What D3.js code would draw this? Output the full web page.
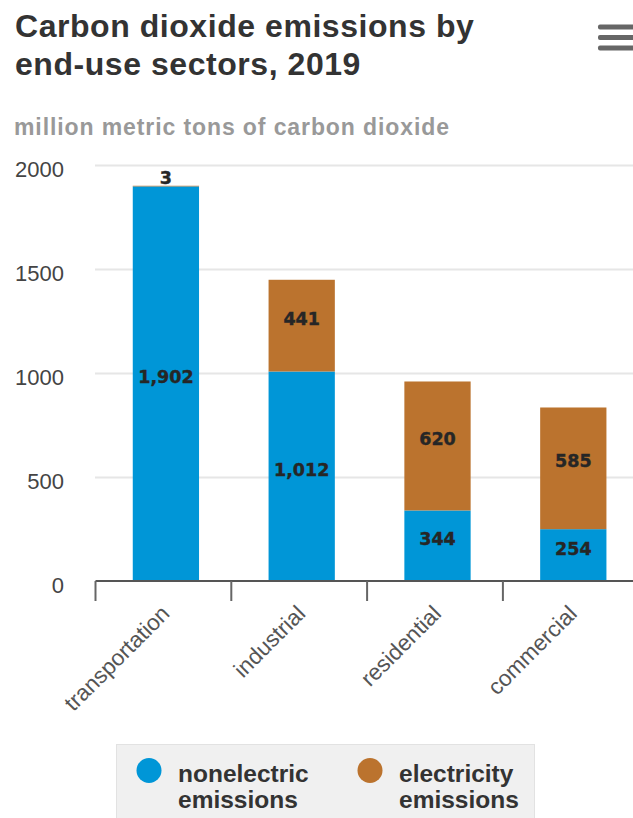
<!DOCTYPE html>
<html>
<head>
<meta charset="utf-8">
<script src="https://cdn.jsdelivr.net/npm/d3@7"></script>
<style>
  html, body { margin: 0; padding: 0; background: #fff; overflow: hidden; }
  svg { display: block; }
</style>
</head>
<body>
<svg id="chart" width="633" height="818"></svg>
<script>
const categories = ["transportation", "industrial", "residential", "commercial"];
const nonelectric = [1902, 1012, 344, 254];
const electricity = [3, 441, 620, 585];
const seriesNames = ["nonelectric\nemissions", "electricity\nemissions"];
const yTicks = [0, 500, 1000, 1500, 2000];
const titleLines = ["Carbon dioxide emissions by", "end-use sectors, 2019"];
const subtitle = "million metric tons of carbon dioxide";

const colors = ["#0096d7", "#bb732e"];

const svg = d3.select("#chart");

// Title
svg.append("g").selectAll("text").data(titleLines).join("text")
  .attr("x", 15).attr("y", (d, i) => 36.5 + i * 38.7)
  .attr("font-family", "'Liberation Sans', Arial, sans-serif")
  .attr("font-weight", "bold").attr("font-size", 32)
  .attr("letter-spacing", 0.55)
  .attr("fill", "#333").text(d => d);

svg.append("text").attr("x", 14).attr("y", 135)
  .attr("font-family", "'Liberation Sans', Arial, sans-serif")
  .attr("font-weight", "bold").attr("font-size", 23)
  .attr("letter-spacing", 0.9)
  .attr("fill", "#999").text(subtitle);

// Hamburger menu
svg.append("g").selectAll("rect").data([27, 37.5, 48]).join("rect")
  .attr("x", 598).attr("y", d => d - 2.5).attr("width", 45).attr("height", 5)
  .attr("rx", 2).attr("fill", "#666");

// Scales
const y = d3.scaleLinear().domain([0, 2000]).range([582, 166]);
const x = d3.scaleBand().domain(categories).range([98, 641.2]).paddingInner(0.512).paddingOuter(0.256);
const xTick = d3.scaleBand().domain(categories).range([95.5, 638.7]).padding(0);

// Grid
svg.append("g").selectAll("line").data(yTicks.filter(d => d > 0)).join("line")
  .attr("x1", 95).attr("x2", 633)
  .attr("y1", d => Math.round(y(d)) - 0.5).attr("y2", d => Math.round(y(d)) - 0.5)
  .attr("stroke", "#e6e6e6").attr("stroke-width", 2);

// Y labels
svg.append("g").selectAll("text").data(yTicks).join("text")
  .attr("x", 64).attr("y", d => y(d) + 11)
  .attr("text-anchor", "end")
  .attr("font-family", "'Liberation Sans', Arial, sans-serif")
  .attr("font-size", 22).attr("fill", "#444")
  .text(d => d);

// Stack
const rows = categories.map((c, i) => ({ cat: c, nonelectric: nonelectric[i], electricity: electricity[i] }));
const stack = d3.stack().keys(["nonelectric", "electricity"])(rows);

const layers = svg.append("g").selectAll("g").data(stack).join("g")
  .attr("fill", (d, i) => colors[i]);
layers.selectAll("rect").data(d => d).join("rect")
  .attr("x", d => x(d.data.cat))
  .attr("width", x.bandwidth())
  .attr("y", d => y(d[1]))
  .attr("height", d => y(d[0]) - y(d[1]));

// Data labels
const fmt = d3.format(",");
const labelG = svg.append("g")
  .attr("font-family", "'DejaVu Sans', Verdana, sans-serif")
  .attr("font-weight", "bold").attr("font-size", 17.5)
  .attr("fill", "#262626").attr("text-anchor", "middle")
  .attr("stroke", "#262626").attr("stroke-width", 0.4);
stack.forEach(layer => {
  layer.forEach(d => {
    const v = d[1] - d[0];
    const h = y(d[0]) - y(d[1]);
    let ty;
    if (h < 16) ty = y(d[1]) - 2;
    else ty = (y(d[0]) + y(d[1])) / 2 - 1;
    labelG.append("text")
      .attr("x", x(d.data.cat) + x.bandwidth() / 2)
      .attr("y", ty)
      .text(fmt(v));
  });
});

// X axis
svg.append("line").attr("x1", 95.5).attr("x2", 633).attr("y1", 581).attr("y2", 581)
  .attr("stroke", "#555").attr("stroke-width", 2);
svg.append("g").selectAll("line").data(categories).join("line")
  .attr("x1", d => xTick(d)).attr("x2", d => xTick(d))
  .attr("y1", 581).attr("y2", 601)
  .attr("stroke", "#666").attr("stroke-width", 2);

svg.append("g").selectAll("text").data(categories).join("text")
  .attr("transform", d => `translate(${x(d) + x.bandwidth() / 2 + 5},615) rotate(-45)`)
  .attr("text-anchor", "end")
  .attr("font-family", "'Liberation Sans', Arial, sans-serif")
  .attr("font-size", 22.5).attr("fill", "#555")
  .text(d => d);

// Legend
const lg = svg.append("g");
lg.append("rect").attr("x", 116.5).attr("y", 744.5).attr("width", 418).attr("height", 90)
  .attr("fill", "#f0f0f0").attr("stroke", "#e2e2e2").attr("stroke-width", 1);
const legendX = [149, 370];
seriesNames.forEach((name, i) => {
  lg.append("circle").attr("cx", legendX[i]).attr("cy", 770.5).attr("r", 12.5).attr("fill", colors[i]);
  const t = lg.append("text").attr("x", legendX[i] + 29)
    .attr("font-family", "'Liberation Sans', Arial, sans-serif")
    .attr("font-weight", "bold").attr("font-size", 24.5).attr("fill", "#333");
  name.split("\n").forEach((line, j) => {
    t.append("tspan").attr("x", legendX[i] + 29).attr("y", 781.5 + j * 26).text(line);
  });
});
</script>
</body>
</html>
